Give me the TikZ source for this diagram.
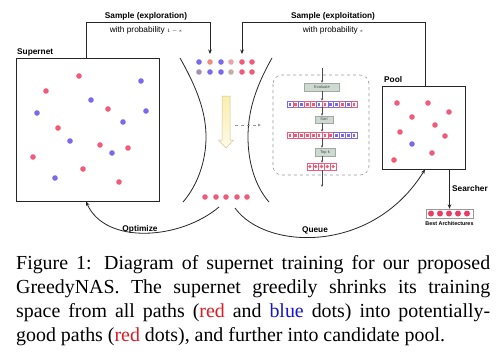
\documentclass[tikz,border=0pt]{standalone}
\usepackage{fontspec}
\setmainfont{Liberation Serif}
\newfontfamily\hv{Liberation Sans}
\usetikzlibrary{arrows.meta,shapes.geometric}
\definecolor{dred}{RGB}{238,92,122}
\definecolor{dblue}{RGB}{124,104,236}
\definecolor{dsalmon}{RGB}{240,140,125}
\definecolor{dpink}{RGB}{230,165,175}
\definecolor{dgrayp}{RGB}{165,145,175}
\definecolor{dtan}{RGB}{195,175,165}
\definecolor{bestred}{RGB}{235,60,100}
\definecolor{capred}{RGB}{225,25,35}
\definecolor{capblue}{RGB}{20,20,210}
\definecolor{evalfill}{RGB}{205,218,208}
\definecolor{yeltop}{RGB}{250,238,175}
\definecolor{yelbot}{RGB}{253,250,232}
\definecolor{yelline}{RGB}{215,195,150}
\begin{document}
\begin{tikzpicture}[x=1pt,y=-1pt,
  box/.style={draw=black!85,line width=0.8pt,inner sep=0pt},
  arr/.style={draw=black!85,line width=0.8pt,-{Stealth[length=4.5pt,width=3.6pt]}},
  parr/.style={draw=black!70,line width=0.6pt,-{Stealth[length=2.6pt,width=2.2pt]}},
  blab/.style={font=\hv\bfseries\fontsize{8.3}{10}\selectfont,inner sep=0pt},
  nlab/.style={font=\hv\fontsize{8.3}{10}\selectfont,inner sep=0pt},
  stepbox/.style={draw=black!35,fill=evalfill,line width=0.4pt,inner sep=0pt,font=\hv\fontsize{4}{5}\selectfont,text=black!70},
  rowbox/.style={inner sep=0pt,draw=none},
  curve/.style={draw=black!85,line width=0.8pt},
  capline/.style={anchor=base west,inner sep=0pt,font=\fontsize{19.9}{24}\selectfont}
]
\useasboundingbox (0,0) rectangle (500,357);
\fill[white] (0,0) rectangle (500,357);

% Supernet
\node[box,minimum width=143pt,minimum height=143pt] (sn) at (87.5,129.5) {};
\node[blab,anchor=base west] (snlab) at (17,54) {Supernet};
\foreach \p in {(79,76),(46,91),(108,109),(58,128),(100,145),(128,148),(33,157),(83,169),(119,182)}
  \fill[dred] \p circle (2.8);
\foreach \p in {(141,81),(91,100),(146,111),(37,113),(123,122),(70,141),(112,153),(55,178)}
  \fill[dblue] \p circle (2.8);

% Pool
\node[box,minimum width=83pt,minimum height=83pt] (pool) at (423.5,127.5) {};
\node[blab,anchor=base west] (poollab) at (384,82) {Pool};
\foreach \p in {(397,103),(428,103),(449,112),(412,117),(435,125),(400,132),(445,136),(432,153),(394,160)}
  \fill[dred] \p circle (2.8);
\fill[dblue] (412,144) circle (2.8);

% funnel
\draw[curve] (180,58) .. controls (197,88) and (206,112) .. (206,137) .. controls (206,162) and (197,186) .. (183,202);
\draw[curve] (272,58) .. controls (255,88) and (248,112) .. (248,137) .. controls (248,162) and (255,186) .. (269,202);
\coordinate (ftopL) at (210,54);
\coordinate (ftopR) at (242,54);
\foreach \x/\c in {199/dblue,210/dsalmon,221/dblue,231/dpink,242/dred,252/dred}
  \fill[\c] (\x,62) circle (2.8);
\foreach \x/\c in {199/dgrayp,210/dblue,221/dblue,231/dtan,242/dred,252/dred}
  \fill[\c] (\x,72) circle (2.8);
\foreach \x in {205,216,226,237,247}
  \fill[dred] (\x,197) circle (2.8);
% yellow arrow
\shade[top color=yeltop,bottom color=yelbot,draw=yelline,line width=0.5pt]
  (222,96) -- (230,96) -- (230,140) -- (233.5,140) -- (226,148) -- (218.5,140) -- (222,140) -- cycle;
% dashed arrow
\coordinate (dsA) at (235,125);
\coordinate (dsB) at (261,125);
\draw[black!40,line width=0.6pt,dashed,-{Latex[length=3pt,width=3pt]}] (dsA) -- (dsB);

% Sample arrows
\node[blab] (explor) at (146,16) {Sample (exploration)};
\node[nlab] (explorp) at (146,30) {with probability {\fontsize{5.5}{6}\selectfont$1-\epsilon$}};
\draw[arr] ([xshift=-1.5pt]sn.north) -- ++(0,-35) -| (ftopL);
\node[blab] (exploi) at (333,16) {Sample (exploitation)};
\node[nlab] (exploip) at (333,30) {with probability {\fontsize{5.5}{6}\selectfont$\epsilon$}};
\draw[arr] ([xshift=1.5pt]pool.north) -- ++(0,-63) -| (ftopR);

% pipeline
\draw[black!40,dashed,line width=0.6pt,rounded corners=9pt] (273,75) rectangle (369,175);
\coordinate (pin) at (322,68);
\coordinate (pout) at (322,187);
\node[stepbox,minimum width=35pt,minimum height=8pt] (eval) at (322,87) {Evaluate};
\node[rowbox,minimum width=70pt,minimum height=6pt] (row1) at (322,104) {};
\node[stepbox,minimum width=18pt,minimum height=7pt] (sort) at (324,119.5) {Sort};
\node[rowbox,minimum width=70pt,minimum height=6pt] (row2) at (322,135) {};
\node[stepbox,minimum width=20pt,minimum height=8pt] (topk) at (325,152) {Top k};
\node[rowbox,minimum width=29pt,minimum height=7pt] (row3) at (321.5,166.5) {};
\foreach \c [count=\k from 0] in {dblue,dred,dblue,dred,dred,dblue,dred,dblue,dblue,dred,dblue,dred}{
  \draw[\c,line width=0.4pt] (287+\k*5.833,101) rectangle ++(5.833,6);
  \fill[\c] (287+\k*5.833+1.5,102.5) rectangle ++(2.8,3);
}
\foreach \c [count=\k from 0] in {dred,dred,dred,dred,dred,dred,dred,dred,dblue,dblue,dblue,dblue}{
  \draw[\c,line width=0.4pt] (287+\k*5.833,132) rectangle ++(5.833,6);
  \fill[\c] (287+\k*5.833+1.5,133.5) rectangle ++(2.8,3);
}
\foreach \k in {0,...,4}{
  \draw[dred,line width=0.4pt] (307+\k*5.8,163) rectangle ++(5.8,7);
  \fill[dred] (307+\k*5.8+2.9,166.5) circle (1.8);
}
\draw[parr] (pin) -- (eval.north);
\draw[parr] (eval.south) -- (row1.north);
\draw[parr] (row1.south) -- (row1.south |- sort.north);
\draw[parr] (row1.south |- sort.south) -- (row2.north);
\draw[parr] (row2.south) -- (row2.south |- topk.north);
\draw[parr] (row2.south |- topk.south) -- (row2.south |- row3.north);
\draw[parr] (row2.south |- row3.south) -- (pout);

% Optimize and Queue
\coordinate (optS) at (219,207);
\coordinate (queS) at (235,208);
\draw[arr] (optS) .. controls (180,240) and (105,245) .. ([xshift=-1.5pt]sn.south);
\node[blab] (optlab) at (140,229) {Optimize};
\draw[arr] (queS) .. controls (265,250) and (372,255) .. ([xshift=1.5pt]pool.south);
\node[blab] (quelab) at (315,230) {Queue};

% Searcher
\node[draw=black!40,line width=0.4pt,minimum width=47pt,minimum height=9pt,inner sep=0pt] (best) at (449.5,213.5) {};
\foreach \x in {431,440,449,458,467}
  \fill[bestred] (\x,213.5) circle (3);
\draw[arr] (pool.south -| best.north) -- (best.north);
\node[blab,anchor=west] (searchlab) at (452,189) {Searcher};
\node[font=\hv\bfseries\fontsize{5.4}{6}\selectfont,inner sep=0pt] (bestlab) at (449.5,224) {Best Architectures};

% caption
\node[capline] (cap1) at (16,269) {\makebox[474pt][s]{Figure 1: Diagram of supernet training for our proposed}};
\node[capline] (cap2) at (16,293) {\makebox[474pt][s]{GreedyNAS. The supernet greedily shrinks its training}};
\node[capline] (cap3) at (16,317) {\makebox[474pt][s]{space from all paths (\textcolor{capred}{red} and \textcolor{capblue}{blue} dots) into potentially-}};
\node[capline] (cap4) at (16,341) {good paths (\textcolor{capred}{red} dots), and further into candidate pool.};
\end{tikzpicture}
\end{document}
